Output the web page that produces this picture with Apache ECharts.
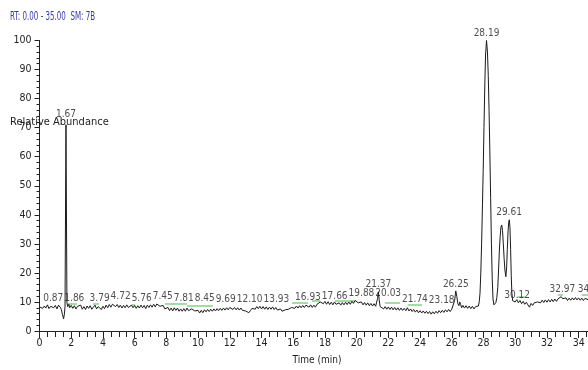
<!DOCTYPE html>
<html>
<head>
<meta charset="utf-8">
<script src="https://cdn.jsdelivr.net/npm/echarts@6/dist/echarts.min.js"></script>
<style>html,body{margin:0;padding:0;background:#fff;overflow:hidden;width:588px;height:370px}#c{width:595px;height:370px}</style>
</head>
<body>
<div id="c"></div>
<script>
// ---- data ----
const headerText = 'RT: 0.00 - 35.00  SM: 7B';
const yAxisTitle = 'Relative Abundance';
const xAxisTitle = 'Time (min)';
const xRange = [0, 35];
const yRange = [0, 100];

// chromatogram trace: [time (min), relative abundance]
const trace = [
[0.0,8.3],[0.1,8.9],[0.2,7.8],[0.3,8.6],[0.4,7.9],[0.5,9.0],[0.6,7.7],[0.7,8.5],[0.8,9.1],[0.9,8.0],
[1.0,8.8],[1.1,7.6],[1.2,8.9],[1.3,8.2],[1.38,7.4],[1.45,5.6],[1.52,4.2],[1.57,5.9],[1.61,8.3],[1.67,71],
[1.73,9.8],[1.78,8.4],[1.85,9.2],[1.9,8.0],
[2.0,8.8],[2.1,7.8],[2.2,8.7],[2.3,7.6],[2.4,8.5],[2.5,7.9],[2.6,8.9],[2.7,7.5],[2.8,8.4],[2.9,7.4],
[3.0,8.6],[3.1,7.8],[3.2,8.7],[3.3,7.5],[3.4,8.2],[3.5,8.9],[3.6,7.6],[3.7,8.4],[3.8,9.0],[3.9,7.4],
[4.0,8.5],[4.1,7.7],[4.2,8.9],[4.3,8.0],[4.4,9.1],[4.5,8.2],[4.6,9.2],[4.7,9.5],[4.8,8.4],[4.9,9.1],
[5.0,8.1],[5.1,8.9],[5.2,7.9],[5.3,8.8],[5.4,8.0],[5.5,9.0],[5.6,8.1],[5.7,7.8],[5.8,8.9],[5.9,8.0],
[6.0,8.8],[6.1,7.8],[6.2,8.7],[6.3,7.9],[6.4,8.9],[6.5,8.0],[6.6,8.8],[6.7,7.7],[6.8,8.9],[6.9,8.1],
[7.0,9.0],[7.1,8.2],[7.2,9.2],[7.3,8.3],[7.4,9.3],[7.5,9.6],[7.6,8.5],[7.7,7.9],[7.8,8.8],[7.9,7.6],
[8.0,7.2],[8.1,8.1],[8.2,7.0],[8.3,7.9],[8.4,6.9],[8.5,8.0],[8.6,7.1],[8.7,7.9],[8.8,6.8],[8.9,7.6],
[9.0,6.8],[9.1,7.7],[9.2,6.8],[9.3,7.9],[9.4,7.0],[9.5,6.7],[9.6,7.6],[9.7,8.0],[9.8,6.9],[9.9,6.4],
[10.0,7.1],[10.1,6.2],[10.2,7.1],[10.3,6.3],[10.4,7.3],[10.5,6.6],[10.6,7.4],[10.7,6.7],[10.8,7.5],[10.9,6.8],
[11.0,7.6],[11.1,6.9],[11.2,7.7],[11.3,7.0],[11.4,7.8],[11.5,7.1],[11.6,7.9],[11.7,7.2],[11.8,8.0],[11.9,7.3],
[12.0,8.1],[12.1,8.4],[12.2,7.4],[12.3,8.1],[12.4,7.3],[12.5,8.0],[12.6,7.2],[12.7,7.9],[12.8,7.1],[12.9,7.7],
[13.0,6.9],[13.1,6.6],[13.2,6.3],[13.3,7.0],[13.4,7.8],[13.5,8.2],[13.6,7.5],[13.7,8.4],[13.8,7.7],[13.9,8.5],
[14.0,7.6],[14.1,8.4],[14.2,7.5],[14.3,8.3],[14.4,7.4],[14.5,8.2],[14.6,7.5],[14.7,8.3],[14.8,7.4],[14.9,8.1],
[15.0,7.2],[15.1,6.9],[15.2,7.6],[15.3,6.8],[15.4,6.6],[15.5,7.3],[15.6,6.7],[15.7,7.5],[15.8,7.4],[15.9,8.1],
[16.0,8.5],[16.1,7.8],[16.2,8.6],[16.3,7.9],[16.4,8.7],[16.5,8.0],[16.6,8.8],[16.7,8.1],[16.8,8.9],[16.9,9.2],
[17.0,8.2],[17.1,9.0],[17.2,8.1],[17.3,8.9],[17.4,8.2],[17.5,9.2],[17.6,9.6],[17.7,10.0],[17.8,10.4],[17.9,9.4],
[18.0,10.2],[18.1,9.2],[18.2,10.1],[18.3,9.1],[18.4,9.9],[18.5,9.0],[18.6,10.0],[18.7,9.2],[18.8,8.7],[18.9,9.7],
[19.0,8.9],[19.1,9.8],[19.2,9.0],[19.3,9.9],[19.4,9.1],[19.5,10.0],[19.6,9.2],[19.7,10.2],[19.8,9.5],[19.9,10.5],
[20.0,10.7],[20.1,9.7],[20.2,9.2],[20.3,10.0],[20.4,9.0],[20.5,9.8],[20.6,8.9],[20.7,9.7],[20.8,8.7],[20.9,9.5],
[21.0,8.6],[21.1,9.4],[21.2,8.5],[21.27,9.1],[21.32,11.2],[21.37,13.5],[21.42,10.8],[21.48,8.4],[21.55,7.8],
[21.6,8.5],[21.7,7.6],[21.8,8.4],[21.9,7.5],
[22.0,8.3],[22.1,7.4],[22.2,8.2],[22.3,7.3],[22.4,8.1],[22.5,7.2],[22.6,8.0],[22.7,7.1],[22.8,7.9],[22.9,7.1],
[23.0,7.8],[23.1,7.0],[23.2,8.0],[23.3,6.9],[23.4,7.6],[23.5,6.7],[23.6,7.4],[23.7,6.5],[23.8,7.2],[23.9,6.3],
[24.0,7.0],[24.1,6.2],[24.2,6.9],[24.3,6.1],[24.4,6.8],[24.5,6.0],[24.6,6.7],[24.7,5.8],[24.8,6.6],[24.9,5.9],
[25.0,6.8],[25.1,6.1],[25.2,7.0],[25.3,6.3],[25.4,7.1],[25.5,6.4],[25.6,7.3],[25.7,6.6],[25.8,7.4],[25.9,6.7],
[26.0,7.5],[26.1,7.4],[26.18,10.5],[26.25,13.8],[26.32,11.8],[26.38,9.4],[26.45,8.7],[26.5,10.0],[26.56,9.1],[26.62,8.0],
[26.7,8.8],[26.8,7.9],[26.9,8.7],[27.0,7.8],[27.1,8.6],[27.2,7.7],[27.3,8.5],[27.4,7.6],[27.5,8.4],[27.6,7.9],
[27.68,8.6],[27.73,10],[27.78,13],[27.83,20],[27.88,30],[27.93,42],[27.98,55],[28.03,70],[28.08,84],[28.13,95],
[28.19,100],[28.25,96],[28.3,88],[28.35,76],[28.4,62],[28.45,46],[28.5,30],[28.55,18],[28.6,11],[28.66,9.0],
[28.72,9.3],[28.78,9.8],[28.84,11.5],[28.9,15],[28.95,21],[29.0,27.5],[29.05,32.5],[29.1,35.8],[29.15,36.5],[29.2,34.5],
[29.25,30],[29.3,25],[29.35,21],[29.41,18.7],[29.46,22],[29.5,28],[29.55,34.5],[29.59,37.5],[29.63,38.3],[29.67,35.5],
[29.71,28],[29.75,19],[29.79,13],[29.84,10.4],[29.9,10.9],
[30.0,10.0],[30.1,10.8],[30.2,9.7],[30.3,10.5],[30.4,9.4],[30.5,10.2],[30.6,9.2],[30.7,9.9],[30.8,9.0],[30.9,8.2],
[31.0,9.5],[31.1,8.8],[31.2,9.7],[31.3,9.1],[31.4,10.0],[31.5,10.5],[31.6,9.7],[31.7,10.6],[31.8,9.8],[31.9,10.7],
[32.0,9.9],[32.1,10.8],[32.2,10.0],[32.3,10.9],[32.4,10.1],[32.5,11.0],[32.6,10.2],[32.7,11.1],[32.8,11.4],[32.9,11.8],
[33.0,11.1],[33.1,10.6],[33.2,11.4],[33.3,10.5],[33.4,11.3],[33.5,10.6],[33.6,11.4],[33.7,10.7],[33.8,11.5],[33.9,10.7],
[34.0,11.4],[34.1,10.6],[34.2,11.3],[34.3,10.5],[34.4,11.2],[34.5,11.5],[34.6,10.8],[34.7,11.8],[34.8,11.0],[34.9,10.7],
[35.0,11.3]
];

// labelled peaks: retention time and apex height
const peakTimes  = [0.87,1.67,1.86,3.79,4.72,5.76,7.45,7.81,8.45,9.69,12.10,13.93,16.93,17.66,19.88,20.03,21.37,21.74,23.18,26.25,28.19,29.61,30.12,32.97,34.75];
const peakHeights= [8.9, 72, 8.8, 8.9, 9.5, 8.9, 9.6, 8.8, 8.8, 8.3, 8.4, 8.5, 9.2, 9.6, 10.5,10.7,13.5,8.6, 8.0, 13.8,100, 38.3,9.8, 11.8,11.8];

// integration baselines (green): [start time, end time, level]
const baselineSegs = [
[1.80,2.36,9.5],[3.37,3.75,9.5],[5.83,6.02,9.0],[7.91,9.30,9.5],[9.30,10.94,8.6],
[15.92,16.93,9.7],[17.18,17.69,10.3],[18.63,19.89,10.5],[21.78,22.73,9.6],[23.23,24.12,9.0],
[30.17,30.61,11.8],[32.69,33.01,12.6],[34.20,34.70,12.6]
];

// ---- chart ----
const FONT = "'DejaVu Sans Condensed','Liberation Sans',Arial,sans-serif";
const chart = echarts.init(document.getElementById('c'), null, {renderer:'canvas'});

const labelData = peakTimes.map((t,i)=>({value:[t,peakHeights[i]], label:{formatter:t.toFixed(2)}}));

const option = {
  animation:false,
  backgroundColor:'#ffffff',
  grid:{left:39.5, top:40.5, right:0.5, bottom:38, containLabel:false},
  graphic:[
    {type:'text', x:10, y:11, scaleX:0.66, z:100, style:{text:headerText, fill:'#3a3aa8', font:'12px '+FONT}},
    {type:'text', x:10, y:117, z:100, style:{text:yAxisTitle, fill:'#222', font:'11px '+FONT}}
  ],
  xAxis:{
    type:'value', min:xRange[0], max:xRange[1], interval:2,
    name:xAxisTitle, nameLocation:'middle', nameGap:24,
    nameTextStyle:{color:'#222', fontSize:10, fontFamily:FONT},
    axisLine:{onZero:false, lineStyle:{color:'#222', width:1}},
    axisTick:{show:true, length:7, lineStyle:{color:'#222'}},
    minorTick:{show:true, splitNumber:4, length:6, lineStyle:{color:'#222'}},
    axisLabel:{color:'#222', fontSize:10.5, fontFamily:FONT, margin:7, showMaxLabel:false},
    splitLine:{show:false}
  },
  yAxis:{
    type:'value', min:yRange[0], max:yRange[1], interval:10,
    axisLine:{show:true, lineStyle:{color:'#222', width:1}},
    axisTick:{show:true, length:5, lineStyle:{color:'#222'}},
    minorTick:{show:true, splitNumber:5, length:3, lineStyle:{color:'#222'}},
    axisLabel:{color:'#222', fontSize:10.5, fontFamily:FONT, margin:8},
    splitLine:{show:false}
  },
  series:[
    {type:'line', data:trace, showSymbol:false, symbol:'none', lineStyle:{color:'#1a1a1a', width:1}, z:3},
    {type:'lines', coordinateSystem:'cartesian2d', z:2,
     data: baselineSegs.map(s=>({coords:[[s[0],s[2]],[s[1],s[2]]]})),
     lineStyle:{color:'#86d286', width:1.5, opacity:1}},
    {type:'scatter', data:labelData, symbolSize:0, z:5,
     label:{show:true, position:'top', distance:2, color:'#222', fontSize:10, fontFamily:FONT}}
  ]
};
chart.setOption(option);

// simple left-to-right label collision avoidance (like the instrument software)
(function(){
  const ctx = document.createElement('canvas').getContext('2d');
  ctx.font = '10px ' + FONT;
  const placed = [];
  const H = 8;
  const newData = labelData.map((d,i)=>{
    const p = chart.convertToPixel({gridIndex:0}, d.value);
    const w = ctx.measureText(d.label.formatter).width;
    let cx = p[0];
    const top = p[1] - 2 - H, bot = p[1] - 2;
    for (const q of placed) {
      if (bot > q.top && top < q.bot) {
        const minCx = q.right + 1 + w/2;
        if (cx < minCx && cx + w/2 > q.left) cx = minCx;
      }
    }
    placed.push({left:cx-w/2, right:cx+w/2, top:top, bot:bot});
    return {value:d.value, label:{formatter:d.label.formatter, offset:[cx-p[0],0]}};
  });
  chart.setOption({series:[{},{},{data:newData}]});
})();
</script>
</body>
</html>
